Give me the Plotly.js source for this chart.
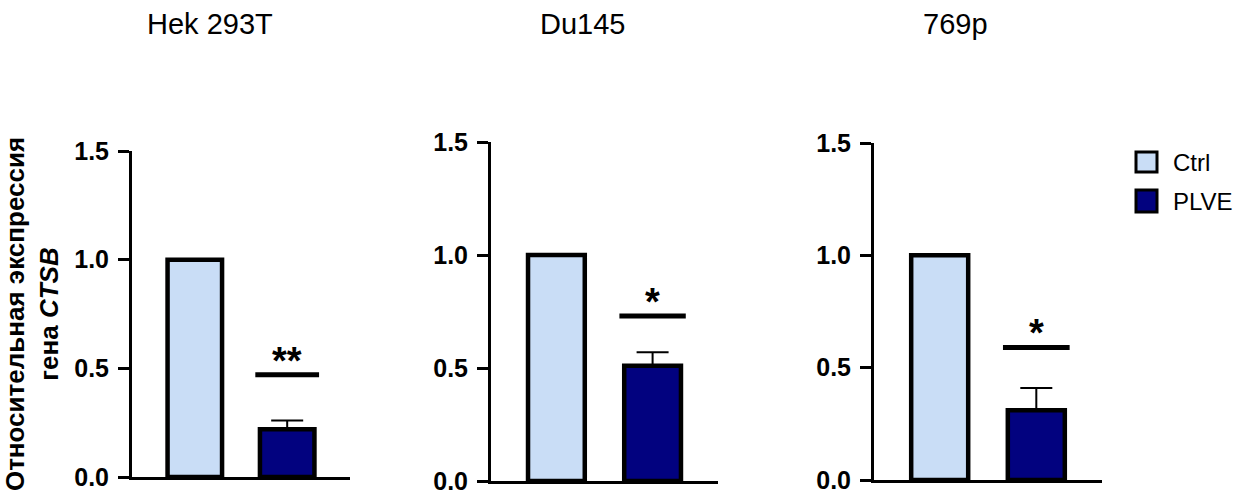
<!DOCTYPE html>
<html>
<head>
<meta charset="utf-8">
<script src="https://cdn.plot.ly/plotly-3.0.1.min.js"></script>
<style>html,body{margin:0;padding:0;background:#fff;}#chart{width:1253px;height:497px;}</style>
</head>
<body>
<div id="chart"></div>
<script>
// ---- data ----
const cellLines = ['Hek 293T', 'Du145', '769p'];
const groupNames = ['Ctrl', 'PLVE'];
const ctrlValues = [1.0, 1.0, 1.0];
const plveValues = [0.22, 0.51, 0.31];
const plveErrors = [0.04, 0.06, 0.10];
const sigLevels = [0.47, 0.73, 0.59];
const sigLabels = ['**', '*', '*'];
const yTickVals = [0, 0.5, 1.0, 1.5];
const yTickText = ['0.0', '0.5', '1.0', '1.5'];

// ---- styling / layout ----
const W = 1253, H = 497;
const FONT = 'Arial, "Liberation Sans", Helvetica, sans-serif';
const ctrlColor = '#c9ddf6';
const plveColor = '#02027f';
const xDom = [[132, 350], [491, 718], [874, 1102]];
const yDom = [[151, 477], [142, 481], [143, 480]];
const titleX = [210, 582, 955];
const barW = 0.59;
const sigHalf = 0.345;

const traces = [];
const layout = {
  width: W, height: H,
  margin: {l: 0, r: 0, t: 0, b: 0},
  paper_bgcolor: '#fff', plot_bgcolor: 'rgba(0,0,0,0)',
  barmode: 'overlay',
  showlegend: false,
  font: {family: FONT, color: '#000'},
  annotations: [], shapes: []
};

cellLines.forEach((name, i) => {
  const sfx = i === 0 ? '' : String(i + 1);
  const xa = 'x' + sfx, ya = 'y' + sfx;
  traces.push({
    type: 'bar', x: [0], y: [ctrlValues[i]], xaxis: xa, yaxis: ya,
    width: barW, name: groupNames[0],
    marker: {color: ctrlColor, line: {color: '#000', width: 4.5}},
    hoverinfo: 'y'
  });
  traces.push({
    type: 'bar', x: [1], y: [plveValues[i]], xaxis: xa, yaxis: ya,
    width: barW, name: groupNames[1],
    marker: {color: plveColor, line: {color: '#000', width: 4.5}},
    error_y: {type: 'data', symmetric: false, array: [plveErrors[i]], arrayminus: [0],
              color: '#000', thickness: 2, width: 16},
    hoverinfo: 'y'
  });
  traces.push({
    type: 'scatter', mode: 'lines', x: [1 - sigHalf, 1 + sigHalf], y: [sigLevels[i], sigLevels[i]],
    xaxis: xa, yaxis: ya, line: {color: '#000', width: 5}, hoverinfo: 'skip'
  });
  layout.annotations.push({
    xref: xa, yref: ya, x: 1, y: sigLevels[i], text: '<b>' + sigLabels[i] + '</b>',
    showarrow: false, yanchor: 'middle', yshift: 14,
    font: {family: FONT, size: 38, color: '#000'}
  });
  layout.annotations.push({
    xref: 'paper', yref: 'paper', x: titleX[i] / W, y: (H - 24) / H, text: name,
    showarrow: false, xanchor: 'center', yanchor: 'middle',
    font: {family: FONT, size: 29, color: '#000'}
  });
  layout['xaxis' + sfx] = {
    domain: [xDom[i][0] / W, xDom[i][1] / W], anchor: ya,
    range: [-0.68, 1.68], showline: true, linewidth: 3, linecolor: '#000',
    showticklabels: false, ticks: '', showgrid: false, zeroline: false, fixedrange: true
  };
  const yax = {
    domain: [(H - yDom[i][1]) / H, (H - yDom[i][0]) / H], anchor: xa,
    range: [0, 1.5], showline: true, linewidth: 3, linecolor: '#000',
    ticks: 'outside', ticklen: 11, tickwidth: 3, tickcolor: '#000',
    tickvals: yTickVals, ticktext: yTickText, ticklabelstandoff: 4,
    tickfont: {family: FONT, size: 25, color: '#000', weight: 'bold'},
    showgrid: false, zeroline: false, fixedrange: true
  };
  if (i === 0) {
    yax.title = {text: '<b>Относительная экспрессия<br>гена <i>CTSB</i></b>',
                 font: {family: FONT, size: 26, color: '#000'}, standoff: 12};
  }
  layout['yaxis' + sfx] = yax;
});

// legend (drawn as shapes + text)
const legY = [[152, 172], [190, 212]];
const legColors = [ctrlColor, plveColor];
groupNames.forEach((g, k) => {
  layout.shapes.push({
    type: 'rect', xref: 'paper', yref: 'paper',
    x0: 1136 / W, x1: 1157 / W, y0: (H - legY[k][1]) / H, y1: (H - legY[k][0]) / H,
    fillcolor: legColors[k], line: {color: '#000', width: 3}
  });
  layout.annotations.push({
    xref: 'paper', yref: 'paper', x: 1171 / W, y: (H - (legY[k][0] + legY[k][1]) / 2) / H,
    text: g, showarrow: false, xanchor: 'left', yanchor: 'middle',
    font: {family: FONT, size: 24, color: '#000'}
  });
});

Plotly.newPlot('chart', traces, layout, {displayModeBar: false, staticPlot: true});
</script>
</body>
</html>
